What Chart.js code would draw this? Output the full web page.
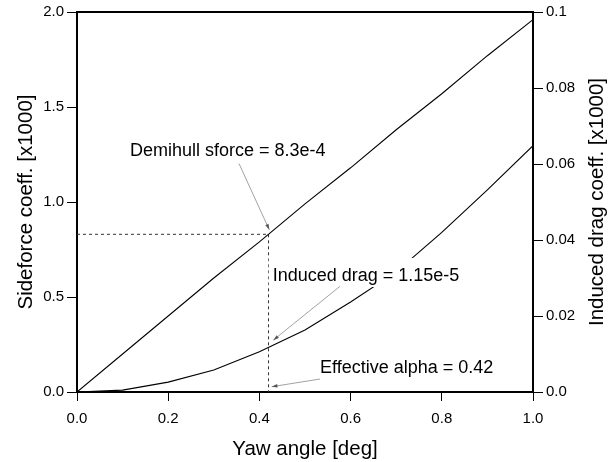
<!DOCTYPE html>
<html>
<head>
<meta charset="utf-8">
<script src="https://cdn.jsdelivr.net/npm/chart.js@4"></script>
<style>
  html, body { margin: 0; padding: 0; background: #fff; }
  #wrap { width: 608px; height: 462px; }
</style>
</head>
<body>
<div id="wrap"><canvas id="myChart"></canvas></div>
<script>
const yaw = [0, 0.1, 0.2, 0.3, 0.4, 0.5, 0.6, 0.7, 0.8, 0.9, 1.0]
const sideforce = [0, 0.20, 0.40, 0.60, 0.79, 0.99, 1.18, 1.38, 1.57, 1.77, 1.96]
const inducedDrag = [0, 0.0005, 0.0026, 0.0058, 0.0106, 0.0163, 0.0237, 0.0316, 0.0420, 0.0532, 0.0648]

// operating point marked with dashed guides
const opYaw = 0.42
const opSideforce = 0.83

const xTicks = [0, 0.2, 0.4, 0.6, 0.8, 1.0]
const leftTicks = [0, 0.5, 1.0, 1.5, 2.0]
const rightTicks = [0, 0.02, 0.04, 0.06, 0.08, 0.1]

const noteTexts = ['Demihull sforce = 8.3e-4', 'Induced drag = 1.15e-5', 'Effective alpha = 0.42']
// text anchor and leader line, in data units of x / left y axis
const noteAt = [[0.1162, 1.2425], [0.4292, 0.5843], [0.5329, 0.0982]]
const noteFrom = [[0.3553, 1.2021], [0.5768, 0.5564], [0.5329, 0.0682]]
const noteTo = [[0.4217, 0.854], [0.4305, 0.273], [0.427, 0.0278]]

const FONT = '"Liberation Sans", Arial, sans-serif'

const pts = (xs, ys) => xs.map((x, i) => ({ x: x, y: ys[i] }))

const extras = {
  id: 'extras',
  afterDatasetsDraw(chart) {
    const { ctx, scales } = chart
    const sx = scales.x, sy = scales.y
    ctx.save()
    ctx.font = '18px ' + FONT
    ctx.textBaseline = 'alphabetic'
    // label boxes + text
    for (let i = 0; i < noteTexts.length; i++) {
      const px = sx.getPixelForValue(noteAt[i][0])
      const py = sy.getPixelForValue(noteAt[i][1])
      const w = ctx.measureText(noteTexts[i]).width
      ctx.fillStyle = '#fff'
      ctx.fillRect(px - 4, py - 23, w + 8, 29)
      ctx.fillStyle = '#000'
      ctx.fillText(noteTexts[i], px, py)
    }
    // leader lines with small arrow heads
    ctx.strokeStyle = '#8a8a8a'
    ctx.fillStyle = '#555'
    ctx.lineWidth = 0.8
    for (let i = 0; i < noteFrom.length; i++) {
      const x0 = sx.getPixelForValue(noteFrom[i][0]), y0 = sy.getPixelForValue(noteFrom[i][1])
      const x1 = sx.getPixelForValue(noteTo[i][0]), y1 = sy.getPixelForValue(noteTo[i][1])
      ctx.beginPath()
      ctx.moveTo(x0, y0)
      ctx.lineTo(x1, y1)
      ctx.stroke()
      const ang = Math.atan2(y1 - y0, x1 - x0)
      ctx.beginPath()
      ctx.moveTo(x1, y1)
      ctx.lineTo(x1 - 6 * Math.cos(ang - 0.3), y1 - 6 * Math.sin(ang - 0.3))
      ctx.lineTo(x1 - 6 * Math.cos(ang + 0.3), y1 - 6 * Math.sin(ang + 0.3))
      ctx.closePath()
      ctx.fill()
    }
    ctx.restore()
  },
  afterDraw(chart) {
    const { ctx, chartArea: a } = chart
    ctx.save()
    // top frame line
    ctx.strokeStyle = '#000'
    ctx.lineWidth = 2
    ctx.beginPath()
    ctx.moveTo(a.left - 1, a.top)
    ctx.lineTo(a.right + 1, a.top)
    ctx.stroke()
    // axis titles
    ctx.fillStyle = '#000'
    ctx.font = '20.5px ' + FONT
    ctx.textAlign = 'center'
    ctx.textBaseline = 'alphabetic'
    ctx.fillText('Yaw angle [deg]', (a.left + a.right) / 2, 455)
    const midY = (a.top + a.bottom) / 2
    ctx.translate(31.5, midY)
    ctx.rotate(-Math.PI / 2)
    ctx.fillText('Sideforce coeff. [x1000]', 0, 0)
    ctx.setTransform(1, 0, 0, 1, 0, 0)
    ctx.translate(603, midY)
    ctx.rotate(-Math.PI / 2)
    ctx.fillText('Induced drag coeff. [x1000]', 0, 0)
    ctx.restore()
  }
}

const tickFont = { family: FONT, size: 15 }

const ctx = document.getElementById('myChart').getContext('2d')
new Chart(ctx, {
  type: 'line',
  data: {
    datasets: [{
      label: 'Sideforce',
      data: pts(yaw, sideforce),
      yAxisID: 'y',
      borderColor: '#000',
      borderWidth: 1.1,
      pointRadius: 0,
      tension: 0
    },
    {
      label: 'Induced drag',
      data: pts(yaw, inducedDrag),
      yAxisID: 'y2',
      borderColor: '#000',
      borderWidth: 1.1,
      pointRadius: 0,
      tension: 0
    },
    {
      label: 'guide h',
      data: pts([0, opYaw], [opSideforce, opSideforce]),
      yAxisID: 'y',
      borderColor: '#333',
      borderWidth: 1,
      borderDash: [3, 3],
      pointRadius: 0
    },
    {
      label: 'guide v',
      data: pts([opYaw, opYaw], [opSideforce, 0]),
      yAxisID: 'y',
      borderColor: '#333',
      borderWidth: 1,
      borderDash: [3, 3],
      pointRadius: 0
    }]
  },
  options: {
    responsive: true,
    maintainAspectRatio: false,
    animation: false,
    layout: { padding: { top: 11, left: 0, right: 0, bottom: 0 } },
    scales: {
      x: {
        type: 'linear',
        min: 0,
        max: 1,
        afterFit: (s) => { s.height = 70 },
        afterBuildTicks: (s) => { s.ticks = xTicks.map(v => ({ value: v })) },
        ticks: { font: tickFont, color: '#000', padding: 9, maxRotation: 0,
          callback: (v) => v.toFixed(1) },
        grid: { drawOnChartArea: false, tickLength: 9, color: '#000', lineWidth: 1 },
        border: { display: true, color: '#000', width: 2 }
      },
      y: {
        position: 'left',
        min: 0,
        max: 2,
        afterFit: (s) => { s.width = 77 },
        afterBuildTicks: (s) => { s.ticks = leftTicks.map(v => ({ value: v })) },
        ticks: { font: tickFont, color: '#000', padding: 3,
          callback: (v) => v.toFixed(1) },
        grid: { drawOnChartArea: false, tickLength: 10, color: '#000', lineWidth: 1 },
        border: { display: true, color: '#000', width: 2 }
      },
      y2: {
        position: 'right',
        min: 0,
        max: 0.1,
        afterFit: (s) => { s.width = 75 },
        afterBuildTicks: (s) => { s.ticks = rightTicks.map(v => ({ value: v })) },
        ticks: { font: tickFont, color: '#000', padding: 3,
          callback: (v) => (v === 0 ? '0.0' : (v === 0.1 ? '0.1' : v.toFixed(2))) },
        grid: { drawOnChartArea: false, tickLength: 10, color: '#000', lineWidth: 1 },
        border: { display: true, color: '#000', width: 2 }
      }
    },
    plugins: {
      legend: { display: false },
      tooltip: { enabled: false }
    }
  },
  plugins: [extras]
})
</script>
</body>
</html>
